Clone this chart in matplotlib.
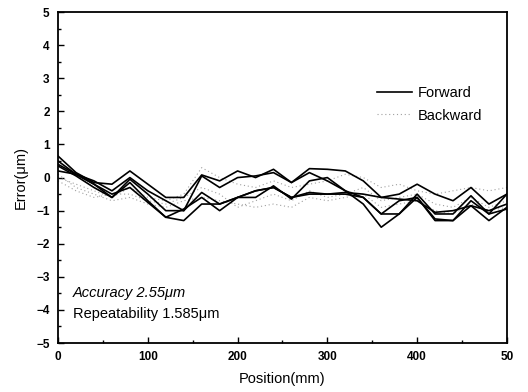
import matplotlib
matplotlib.use("Agg")
import matplotlib.pyplot as plt
from matplotlib.ticker import MultipleLocator

plt.rcParams['font.family'] = ['Liberation Sans', 'DejaVu Sans']

position = list(range(0, 501, 20))

forward_1 = [0.65, 0.15, -0.15, -0.2, 0.2, -0.2, -0.6, -0.6, 0.08, -0.1, 0.2, 0.0, 0.25,
             -0.15, 0.27, 0.25, 0.2, -0.1, -0.6, -0.5, -0.2, -0.5, -0.7, -0.3, -0.8, -0.5]
forward_2 = [0.5, 0.1, -0.1, -0.4, 0.0, -0.4, -0.7, -1.0, -0.45, -0.8, -0.6, -0.4, -0.3,
             -0.6, -0.5, -0.5, -0.45, -0.5, -0.6, -0.65, -0.7, -1.05, -1.0, -0.85, -1.0, -0.8]
forward_3 = [0.4, 0.1, -0.2, -0.6, -0.05, -0.5, -1.0, -1.0, 0.05, -0.3, 0.0, 0.05, 0.15,
             -0.15, 0.15, -0.1, -0.4, -0.6, -1.1, -1.1, -0.5, -1.1, -1.1, -0.55, -1.1, -0.5]
forward_4 = [0.35, 0.05, -0.3, -0.6, -0.15, -0.7, -1.2, -1.3, -0.8, -0.8, -0.6, -0.6, -0.25,
             -0.65, -0.1, 0.0, -0.4, -0.8, -1.5, -1.1, -0.6, -1.3, -1.3, -0.85, -1.3, -0.9]
forward_5 = [0.2, 0.1, -0.2, -0.5, -0.3, -0.75, -1.2, -0.95, -0.6, -1.0, -0.6, -0.4, -0.3,
             -0.6, -0.45, -0.5, -0.5, -0.6, -1.1, -0.7, -0.6, -1.25, -1.3, -0.7, -1.1, -0.95]

backward_1 = [0.0, -0.2, -0.4, -0.6, -0.3, -0.6, -0.7, -0.5, 0.3, 0.0, -0.2, -0.3, -0.1,
              -0.3, -0.2, -0.1, 0.1, 0.0, -0.3, -0.2, -0.4, -0.5, -0.4, -0.3, -0.4, -0.3]
backward_2 = [-0.1, -0.4, -0.6, -0.5, -0.5, -0.7, -0.8, -0.6, -0.3, -0.5, -0.9, -0.7, -0.5,
              -0.7, -0.4, -0.6, -0.5, -0.3, -0.7, -0.6, -0.5, -0.8, -0.9, -0.6, -0.9, -0.7]
backward_3 = [0.1, -0.3, -0.5, -0.7, -0.6, -0.8, -0.9, -0.7, -0.6, -0.7, -0.8, -0.9, -0.8,
              -0.9, -0.6, -0.7, -0.6, -0.5, -0.9, -0.8, -0.7, -1.0, -1.1, -0.8, -1.0, -0.9]

forward = [forward_1, forward_2, forward_3, forward_4, forward_5]
backward = [backward_1, backward_2, backward_3]

fig = plt.figure(figsize=(5.28, 3.92), dpi=100)
ax = fig.add_axes([0.110, 0.125, 0.850, 0.844])

for i, ys in enumerate(backward):
    ax.plot(position, ys, color='#a0a0a0', lw=0.8, ls=(0, (1, 2.5)),
            label='Backward' if i == 0 else None)
for i, ys in enumerate(forward):
    ax.plot(position, ys, color='black', lw=1.2,
            label='Forward' if i == 0 else None)

ax.set_xlim(0, 500)
ax.set_ylim(-5, 5)
ax.xaxis.set_minor_locator(MultipleLocator(50))
ax.yaxis.set_major_locator(MultipleLocator(1))
ax.yaxis.set_minor_locator(MultipleLocator(0.5))
ax.set_xticks([0, 100, 200, 300, 400, 500])
ax.set_xticklabels(['0', '100', '200', '300', '400', '50'])
ax.tick_params(which='both', direction='in', labelsize=8.5, width=1)
ax.tick_params(which='major', length=4, pad=6)
ax.tick_params(which='minor', length=2)
for lbl in ax.get_xticklabels() + ax.get_yticklabels():
    lbl.set_fontweight('bold')
for s in ax.spines.values():
    s.set_linewidth(1.3)

ax.set_xlabel('Position(mm)', fontsize=10.5, labelpad=6)
ax.set_ylabel('Error(μm)', fontsize=10.5, labelpad=6)

handles, labels = ax.get_legend_handles_labels()
order = [labels.index('Forward'), labels.index('Backward')]
ax.legend([handles[k] for k in order], [labels[k] for k in order],
          loc='upper right', bbox_to_anchor=(0.975, 0.815), frameon=False,
          fontsize=10.5, handlelength=2.4, handletextpad=0.4, labelspacing=0.55)

ax.text(0.033, 0.14, 'Accuracy 2.55μm', transform=ax.transAxes,
        fontsize=10.5, style='italic')
ax.text(0.033, 0.075, 'Repeatability 1.585μm', transform=ax.transAxes,
        fontsize=10.5)

fig.savefig('out.png', dpi=100)
